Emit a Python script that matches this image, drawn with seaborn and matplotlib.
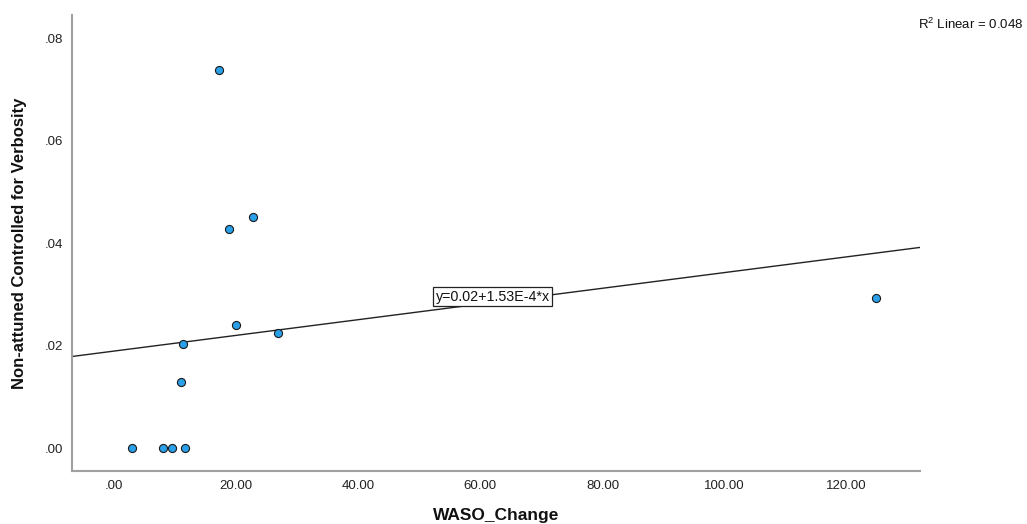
import numpy as np
import pandas as pd
import matplotlib
matplotlib.use("Agg")
import matplotlib.pyplot as plt
from matplotlib.ticker import FuncFormatter, MultipleLocator
import seaborn as sns

# Observed values
waso_change = [2.9, 8.1, 9.45, 11.6, 10.9, 11.35, 20.0, 26.8, 17.2, 22.8, 18.8, 124.8]
non_attuned = [0.0, 0.0, 0.0, 0.0, 0.0130, 0.0204, 0.0241, 0.0226, 0.0739, 0.0452, 0.0429, 0.0293]

x_label = "WASO_Change"
y_label = "Non-attuned Controlled for Verbosity"

df = pd.DataFrame({x_label: waso_change, y_label: non_attuned})

sns.set_theme(style="white")
plt.rcParams["font.family"] = ["Liberation Sans", "DejaVu Sans"]
plt.rcParams["mathtext.default"] = "regular"

fig = plt.figure(figsize=(10.27, 5.24), dpi=100)
ax = fig.add_axes([0.0698, 0.1002, 0.8260, 0.8712])

xlim = (-6.93, 132.0)
ylim = (-0.00453, 0.0846)

# Least-squares fit line across the full axis width
slope, intercept = np.polyfit(df[x_label], df[y_label], 1)
r2 = np.corrcoef(df[x_label], df[y_label])[0, 1] ** 2
xs = np.array(xlim)
ax.plot(xs, intercept + slope * xs, color="#222222", lw=1.0, zorder=1)

sns.scatterplot(data=df, x=x_label, y=y_label, ax=ax, s=34, color="#2AA0E8",
                edgecolor="#1a1a1a", linewidth=0.8, zorder=3)

ax.set_xlim(*xlim)
ax.set_ylim(*ylim)

fmt = FuncFormatter(lambda v, p: f"{v:.2f}".lstrip("0") if abs(v) < 1 else f"{v:.2f}")
ax.xaxis.set_major_locator(MultipleLocator(20))
ax.yaxis.set_major_locator(MultipleLocator(0.02))
ax.xaxis.set_major_formatter(fmt)
ax.yaxis.set_major_formatter(fmt)
ax.tick_params(axis="both", length=0, labelsize=9.5, colors="#222222")
ax.tick_params(axis="x", pad=6)
ax.tick_params(axis="y", pad=6)

for side in ["top", "right"]:
    ax.spines[side].set_visible(False)
for side in ["left", "bottom"]:
    ax.spines[side].set_color("#a0a0a0")
    ax.spines[side].set_linewidth(1.5)

ax.set_xlabel(x_label, fontsize=12.5, fontweight="bold", labelpad=12, color="#111111")
ax.set_ylabel(y_label, fontsize=12, fontweight="bold", labelpad=13, color="#111111")

# Fit equation label
mant, expo = f"{slope:.2E}".split("E")
eq = f"y={intercept:.2f}+{mant}E{int(expo)}*x"
ax.text(52.7, 0.0296, eq, fontsize=10.3, ha="left", va="center", color="#111111",
        bbox=dict(boxstyle="square,pad=0.18", facecolor="white", edgecolor="#222222", linewidth=0.9),
        zorder=4)

fig.text(0.997, 0.953, f"R$^2$ Linear = {r2:.3f}", fontsize=9.5, ha="right", va="center",
         color="#111111")

fig.savefig("out.png", dpi=100)
